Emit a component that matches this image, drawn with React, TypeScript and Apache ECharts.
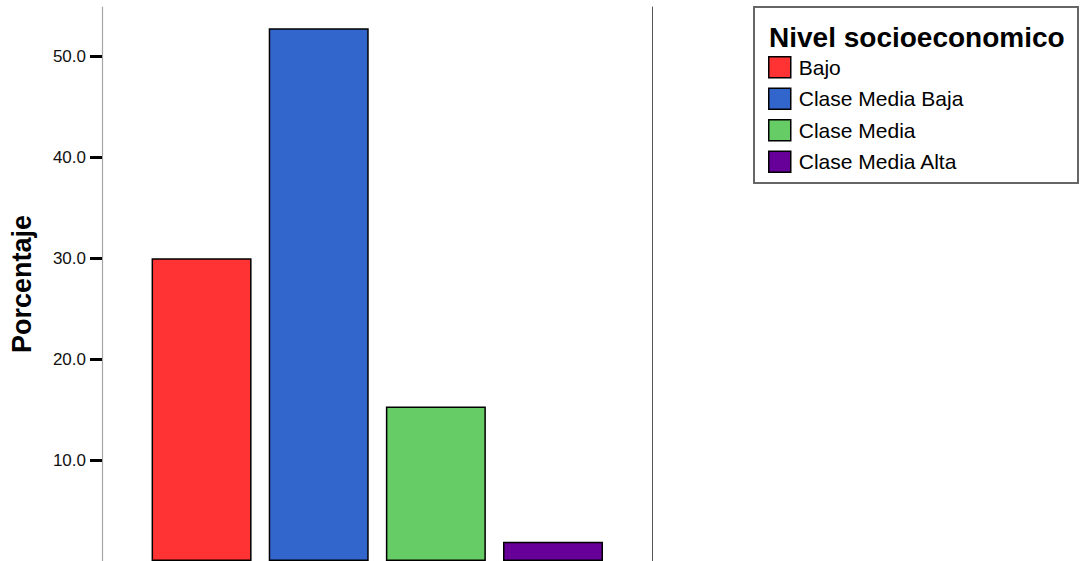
import React, { useEffect, useRef } from "react";
import * as echarts from "echarts";

// Socioeconomic level distribution (percent)
const categories = ["Bajo", "Clase Media Baja", "Clase Media", "Clase Media Alta"];
const percentages = [30.0, 52.8, 15.3, 1.9];
const colors = ["#FF3333", "#3366CC", "#66CC66", "#660099"];
const yTicks = [10, 20, 30, 40, 50];
const legendTitle = "Nivel socioeconomico";
const yAxisTitle = "Porcentaje";

const FONT = "'Liberation Sans', Arial, Helvetica, sans-serif";

export default function App() {
  const ref = useRef<HTMLDivElement>(null);

  useEffect(() => {
    if (!ref.current) return;
    const chart = echarts.init(ref.current, null, { renderer: "svg" });

    const series = categories.map((name, i) => ({
      name,
      type: "bar",
      stack: "total",
      barWidth: 100,
      data: [[i, percentages[i]]],
      itemStyle: { color: colors[i], borderColor: "#000", borderWidth: 1.5 },
    }));

    chart.setOption({
      animation: false,
      backgroundColor: "#fff",
      textStyle: { fontFamily: FONT },
      grid: { left: 100, right: 428, top: 7, bottom: 0 },
      xAxis: {
        type: "value",
        min: -0.85,
        max: 3.845,
        show: false,
      },
      yAxis: [
        {
          type: "value",
          min: 0,
          max: 54.9,
          position: "left",
          splitLine: { show: false },
          axisLine: { show: true, onZero: false, lineStyle: { color: "#a6a6a6", width: 1.2 } },
          axisTick: {
            show: true,
            length: 12,
            customValues: yTicks,
            lineStyle: { color: "#000", width: 3 },
          },
          axisLabel: {
            customValues: yTicks,
            margin: 16,
            fontSize: 17,
            color: "#111",
            fontFamily: FONT,
            formatter: (v: number) => v.toFixed(1),
          },
          name: yAxisTitle,
          nameLocation: "middle",
          nameRotate: 90,
          nameGap: 67,
          nameTextStyle: { fontSize: 27, fontWeight: "bold", color: "#000", fontFamily: FONT },
        },
        {
          type: "value",
          min: 0,
          max: 54.9,
          position: "right",
          splitLine: { show: false },
          axisLine: { show: true, onZero: false, lineStyle: { color: "#555", width: 1 } },
          axisTick: { show: false },
          axisLabel: { show: false },
        },
      ],
      legend: {
        orient: "vertical",
        left: 768,
        top: 56,
        padding: 0,
        itemWidth: 22,
        itemHeight: 21,
        itemGap: 9,
        icon: "rect",
        selectedMode: false,
        data: categories,
        itemStyle: { borderColor: "#000", borderWidth: 1.5 },
        textStyle: { fontSize: 21, color: "#000", fontFamily: FONT, padding: [0, 0, 0, 3] },
      },
      graphic: [
        {
          type: "rect",
          shape: { x: 754, y: 7, width: 324, height: 176 },
          style: { fill: "none", stroke: "#666", lineWidth: 2 },
          silent: true,
        },
        {
          type: "text",
          x: 769,
          y: 37.5,
          style: {
            text: legendTitle,
            fontSize: 28,
            fontWeight: "bold",
            fill: "#000",
            fontFamily: FONT,
            align: "left",
            verticalAlign: "middle",
          },
          silent: true,
        },
      ],
      series,
    });

    return () => chart.dispose();
  }, []);

  return (
    <div
      ref={ref}
      style={{ position: "absolute", left: 0, top: 0, width: 1080, height: 561 }}
    />
  );
}
